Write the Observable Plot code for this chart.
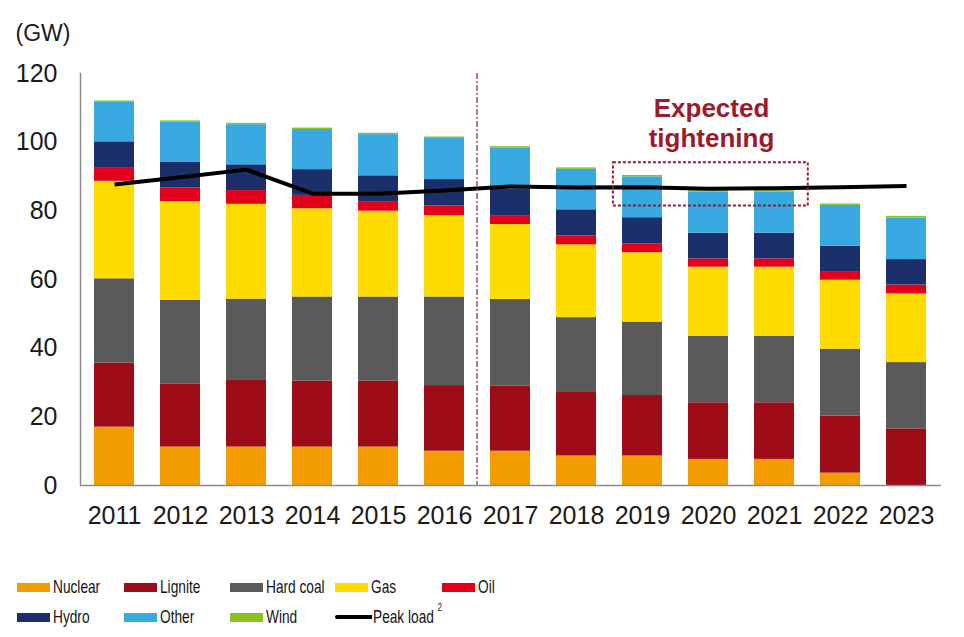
<!DOCTYPE html>
<html>
<head>
<meta charset="utf-8">
<script src="https://cdn.jsdelivr.net/npm/d3@7"></script>
<script src="https://cdn.jsdelivr.net/npm/@observablehq/plot@0.6"></script>
<style>
  body { margin: 0; background: #fff; }
  #wrap { position: relative; width: 964px; height: 637px; overflow: hidden; }
  #chart { position: absolute; left: 0; top: 0; }
  .lg { position: absolute; display: flex; align-items: center; font-family: "Liberation Sans", Arial, sans-serif; font-size: 18.5px; color: #141414; white-space: nowrap; }
  .sw { width: 33px; height: 9px; margin-right: 3px; flex: none; }
  .ln { width: 37px; height: 4.5px; background: #000; border-radius: 2px 0 0 2px; margin-right: 1px; flex: none; }
  .tx { display: inline-block; transform: scaleX(0.74); transform-origin: left center; }
  .tx sup { font-size: 11px; position: relative; top: -5px; margin-left: 5px; vertical-align: top; }
</style>
</head>
<body>
<div id="wrap">
  <div id="chart"></div>
  <div id="legend"></div>
</div>
<script>
// ---- data ----
const years = ["2011","2012","2013","2014","2015","2016","2017","2018","2019","2020","2021","2022","2023"];
const seriesNames = ["Nuclear","Lignite","Hard coal","Gas","Oil","Hydro","Other","Wind"];
const seriesColors = ["#f29c00","#9c0b16","#5a5a5a","#ffdc00","#e3001b","#1b2f6b","#37a8e0","#8dc021"];

const nuclear  = [17.0, 11.2, 11.2, 11.2, 11.2, 10.0, 10.0, 8.6, 8.6, 7.6, 7.6, 3.6, 0.0];
const lignite  = [18.7, 18.4, 19.4, 19.2, 19.2, 19.1, 18.9, 18.5, 17.6, 16.5, 16.5, 16.6, 16.5];
const hardCoal = [24.5, 24.3, 23.7, 24.5, 24.5, 25.8, 25.3, 21.8, 21.4, 19.4, 19.4, 19.5, 19.3];
const gas      = [28.4, 28.8, 27.6, 25.7, 25.0, 23.7, 21.8, 21.2, 20.2, 20.1, 20.1, 20.1, 20.0];
const oil      = [4.0, 4.0, 4.0, 3.9, 2.6, 2.8, 2.6, 2.6, 2.6, 2.4, 2.4, 2.5, 2.6];
const hydro    = [7.5, 7.4, 7.5, 7.5, 7.7, 7.7, 7.8, 7.6, 7.6, 7.5, 7.5, 7.4, 7.4];
const other    = [11.5, 11.7, 11.7, 11.7, 12.0, 12.0, 11.9, 11.8, 11.9, 12.0, 12.0, 11.9, 12.1];
const wind     = [0.4, 0.4, 0.4, 0.4, 0.4, 0.4, 0.4, 0.4, 0.4, 0.4, 0.4, 0.4, 0.5];
const peakLoad = [87.7, 89.8, 92.0, 85.0, 85.0, 85.9, 87.1, 86.8, 86.9, 86.4, 86.6, 86.9, 87.2];

const yTicks = [0, 20, 40, 60, 80, 100, 120];
const unitLabel = "(GW)";
const annotationLines = ["Expected", "tightening"];
const annotationYears = ["2019", "2021"];
const annotationRange = [81.4, 94.0];
const forecastStart = "2017";

// ---- build tables ----
const seriesValues = [nuclear, lignite, hardCoal, gas, oil, hydro, other, wind];
const stackData = [];
years.forEach((yr, i) => {
  seriesNames.forEach((s, j) => stackData.push({year: yr, series: s, value: seriesValues[j][i]}));
});
const peakData = years.map((yr, i) => ({year: yr, value: peakLoad[i]}));

const W = 964, H = 560, ML = 80, MR = 23, MT = 73, MB = 75;
const darkRed = "#9b1b2a";

const plot = Plot.plot({
  width: W, height: H,
  marginLeft: ML, marginRight: MR, marginTop: MT, marginBottom: MB,
  style: {fontFamily: "'Liberation Sans', Arial, sans-serif", fontSize: "25px", color: "#1a1a1a", background: "#fff"},
  x: {type: "band", domain: years, paddingInner: 0.39, paddingOuter: 0.2, tickSize: 0, tickPadding: 21, label: null},
  y: {domain: [0, 120], ticks: yTicks, tickSize: 0, tickPadding: 23, label: null},
  color: {domain: seriesNames, range: seriesColors},
  marks: [
    Plot.barY(stackData, {x: "year", y: "value", fill: "series", order: null}),
    Plot.ruleY([0], {stroke: "#8a8a8a", strokeWidth: 1.5}),
    Plot.frame({anchor: "left", stroke: "#8a8a8a", strokeWidth: 1.5}),
    Plot.line(peakData, {x: "year", y: "value", stroke: "#000", strokeWidth: 4, strokeLinecap: "butt"}),
    Plot.text([unitLabel], {frameAnchor: "top-left", text: d => d, dx: -65, dy: -49, textAnchor: "start", fontSize: 23, fill: "#1a1a1a"}),
    Plot.text([annotationLines[0]], {x: () => "2020", y: () => 109.8, text: d => d, dx: 3, fontSize: 26, fontWeight: "bold", fill: darkRed}),
    Plot.text([annotationLines[1]], {x: () => "2020", y: () => 101.0, text: d => d, dx: 3, fontSize: 26, fontWeight: "bold", fill: darkRed})
  ]
});
document.getElementById("chart").appendChild(plot);

// ---- annotations placed with the plot's own scales ----
function bandInfo(sc) {
  let bw = typeof sc.bandwidth === "function" ? sc.bandwidth() : sc.bandwidth;
  let st = typeof sc.step === "function" ? sc.step() : sc.step;
  return {bw, st};
}
const sx = plot.scale("x"), sy = plot.scale("y");
const {bw, st} = bandInfo(sx);
const svg = d3.select(plot);
const xr = sx.apply(forecastStart) - (st - bw) / 2;
svg.append("line")
  .attr("x1", xr).attr("x2", xr)
  .attr("y1", sy.apply(120)).attr("y2", sy.apply(0))
  .attr("stroke", "#a8505a").attr("stroke-width", 1.5).attr("stroke-dasharray", "6,2,2,2");
const bx1 = sx.apply(annotationYears[0]) - (st - bw) * 0.35;
const bx2 = sx.apply(annotationYears[1]) + bw + (st - bw) * 0.53;
svg.append("rect")
  .attr("x", bx1).attr("y", sy.apply(annotationRange[1]))
  .attr("width", bx2 - bx1).attr("height", sy.apply(annotationRange[0]) - sy.apply(annotationRange[1]))
  .attr("fill", "none").attr("stroke", darkRed).attr("stroke-width", 2).attr("stroke-dasharray", "3,2");

// ---- legend ----
const legendCols = [17, 123.5, 229.5, 335, 441.5];
const legendRows = [587, 617];
const legendItems = seriesNames.map((s, i) => ({label: s, color: seriesColors[i]}));
legendItems.push({label: "Peak load", line: true, sup: "2"});
const lg = document.getElementById("legend");
legendItems.forEach((it, i) => {
  const el = document.createElement("div");
  el.className = "lg";
  el.style.left = legendCols[i % 5] + "px";
  el.style.top = (legendRows[Math.floor(i / 5)] - 11) + "px";
  el.style.height = "22px";
  const mk = document.createElement("div");
  if (it.line) { mk.className = "ln"; } else { mk.className = "sw"; mk.style.background = it.color; }
  el.appendChild(mk);
  const t = document.createElement("span");
  t.className = "tx";
  t.textContent = it.label;
  if (it.sup) { const s = document.createElement("sup"); s.textContent = it.sup; t.appendChild(s); }
  el.appendChild(t);
  lg.appendChild(el);
});
</script>
</body>
</html>
